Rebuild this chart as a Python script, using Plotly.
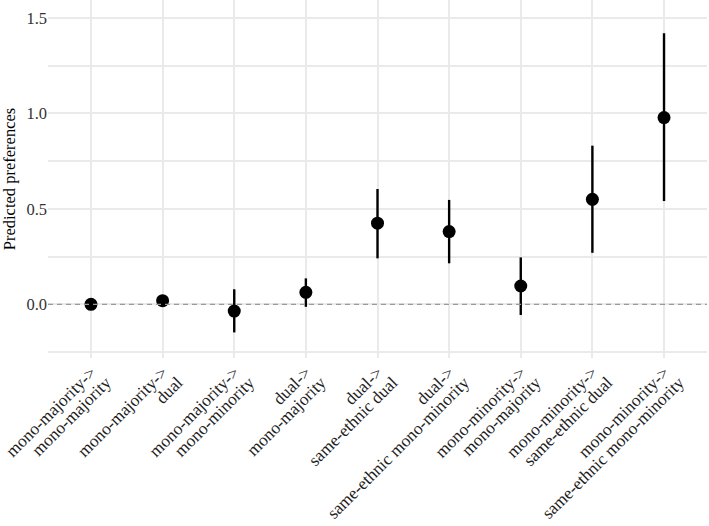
import plotly.graph_objects as go

categories = [
    "mono-majority->\nmono-majority",
    "mono-majority->\ndual",
    "mono-majority->\nmono-minority",
    "dual->\nmono-majority",
    "dual->\nsame-ethnic dual",
    "dual->\nsame-ethnic mono-minority",
    "mono-minority->\nmono-majority",
    "mono-minority->\nsame-ethnic dual",
    "mono-minority->\nsame-ethnic mono-minority",
]
estimates = [0.0, 0.019, -0.035, 0.063, 0.425, 0.381, 0.096, 0.550, 0.978]
ci_low = [-0.008, -0.008, -0.147, -0.013, 0.241, 0.215, -0.056, 0.270, 0.541]
ci_high = [0.008, 0.040, 0.079, 0.136, 0.604, 0.547, 0.246, 0.831, 1.420]
y_ticks = [0.0, 0.5, 1.0, 1.5]
y_tick_labels = ["0.0", "0.5", "1.0", "1.5"]

first_lines = [c.split("\n")[0] for c in categories]
second_lines = [c.split("\n")[1] for c in categories]
xpos = list(range(len(categories)))
err_plus = [h - e for h, e in zip(ci_high, estimates)]
err_minus = [e - l for e, l in zip(estimates, ci_low)]

FONT = "Liberation Serif, Times New Roman, serif"
GRID = "#EAEAEA"
XFONT = dict(family=FONT, size=17.3, color="#1e1e1e")

fig = go.Figure()
fig.add_trace(go.Scatter(
    x=xpos,
    y=estimates,
    mode="markers",
    marker=dict(color="black", size=13),
    error_y=dict(type="data", symmetric=False, array=err_plus, arrayminus=err_minus,
                 color="black", thickness=2.4, width=0),
    showlegend=False,
    hoverinfo="skip",
))
# invisible companion trace so the second label axis is drawn
fig.add_trace(go.Scatter(x=xpos, y=estimates, xaxis="x2", mode="markers",
                         marker=dict(opacity=0), showlegend=False, hoverinfo="skip"))

fig.add_shape(type="line", xref="paper", yref="y", x0=0, x1=1, y0=0, y1=0,
              line=dict(color="#9a9a9a", width=1.4, dash="5px,4px"), layer="above")

xrange = [-0.6, len(categories) - 0.4]
fig.update_layout(
    width=709, height=526,
    margin=dict(l=48, r=2, t=0, b=168),
    paper_bgcolor="white", plot_bgcolor="white",
    font=dict(family=FONT, size=16, color="#333333"),
    xaxis=dict(
        tickmode="array", tickvals=xpos, ticktext=first_lines,
        range=xrange,
        tickangle=-45, showgrid=True, gridcolor=GRID, gridwidth=1.5,
        zeroline=False, showline=False, ticks="", automargin=False,
        ticklabelstandoff=0, ticklabelshift=0,
        tickfont=XFONT,
    ),
    xaxis2=dict(
        overlaying="x", anchor="y", side="bottom", matches="x",
        tickmode="array", tickvals=xpos, ticktext=second_lines,
        range=xrange,
        tickangle=-45, showgrid=False,
        zeroline=False, showline=False, ticks="", automargin=False,
        ticklabelstandoff=10, ticklabelshift=15,
        tickfont=XFONT,
    ),
    yaxis=dict(
        range=[-0.281, 1.594],
        tickmode="array", tickvals=y_ticks, ticktext=y_tick_labels,
        showgrid=True, gridcolor=GRID, gridwidth=1.5,
        minor=dict(dtick=0.25, tick0=0, showgrid=True, gridcolor=GRID, gridwidth=1.5),
        zeroline=False, showline=False, ticks="", automargin=False,
        tickfont=dict(family=FONT, size=16.5, color="#333333"),
        title=dict(text="Predicted preferences", standoff=6,
                   font=dict(family=FONT, size=16.5, color="black")),
    ),
)

fig.write_html("out.html")
